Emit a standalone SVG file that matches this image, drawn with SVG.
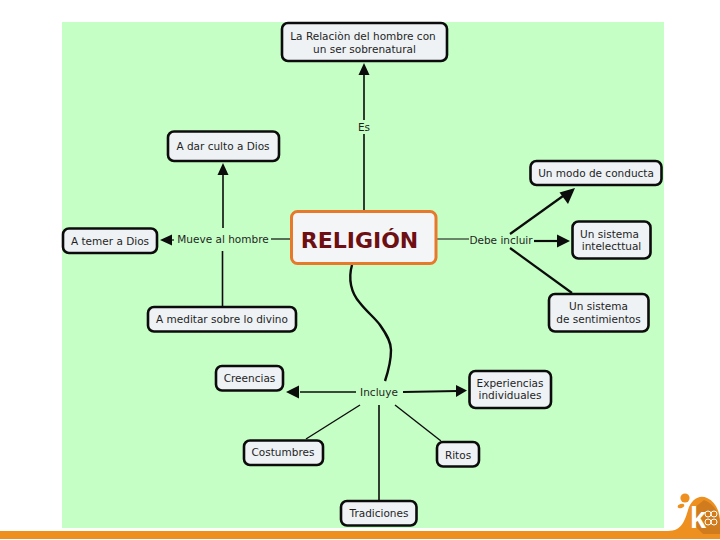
<svg xmlns="http://www.w3.org/2000/svg" width="720" height="540" viewBox="0 0 720 540">
<style>
.n{fill:#eef2f5;stroke:#0c0c0c;stroke-width:2.6}
.t{font-family:"DejaVu Sans",sans-serif;font-size:10.5px;fill:#1f1f1f;text-anchor:middle}
.c{fill:none;stroke:#0c0c0c}
.a{fill:#0c0c0c;stroke:none}
.h{fill:none;stroke:#fff;stroke-width:1}
</style>
<rect width="720" height="540" fill="#fff"/>
<rect x="62" y="22" width="602" height="506" fill="#c6ffc6"/>
<g id="footer">
<path d="M0 531H668C682 531 685 520 688 510C691 499 700 494 707 498C716 502 720 512 720 522V539H0Z" fill="#ee9020"/>
<path d="M696 527L694 508L704 500C713 503 719 512 720 522V534H703Z" fill="#d07c1e"/>
<circle cx="685" cy="498" r="4.6" fill="#ee9020"/>
<ellipse cx="681" cy="506" rx="3.4" ry="2" fill="#ee9020" transform="rotate(-20 681 506)"/>
<text x="698" y="528" font-family="'Liberation Sans',sans-serif" font-size="29" font-weight="700" fill="#fff" text-anchor="middle">k</text>
<circle class="h" cx="708" cy="514" r="3"/>
<circle class="h" cx="714" cy="514" r="3"/>
<circle class="h" cx="708" cy="522" r="3"/>
<circle class="h" cx="714" cy="522" r="3"/>
</g>
<g id="connectors">
<path class="c" stroke-width="1.6" d="M364 211V134M364 120V72"/>
<path class="a" d="M364 63L358.500 75H369.500Z"/>
<path class="c" stroke-width="1.6" d="M223 228V174"/>
<path class="a" d="M223 163L217.500 175H228.500Z"/>
<path class="c" stroke-width="1.6" d="M222.500 251V306"/>
<path class="c" stroke-width="1.2" d="M271 239H291"/>
<path class="c" stroke-width="1.2" d="M174 240H168"/>
<path class="a" d="M160 240L172 234.500V245.500Z"/>
<path class="c" stroke-width="1" d="M437 239H469"/>
<path class="c" stroke-width="2.2" d="M510 234L563 196"/>
<path class="a" d="M575 188L559.500 192.500L568 204Z"/>
<path class="c" stroke-width="2.2" d="M534 241H560"/>
<path class="a" d="M570 241L557 234.500V247.500Z"/>
<path class="c" stroke-width="2.2" d="M510 248L572 293"/>
<path class="c" stroke-width="2.4" d="M352 265C348 279 351 293 360 303C367 312 375 318 380 325C387 335 391 342 391 350C391 362 388 372 385 381"/>
<path class="c" stroke-width="1.600" d="M356 392L300 392"/>
<path class="a" d="M286 392L299 385.500V398.500Z"/>
<path class="c" stroke-width="1.800" d="M403 392L458 391"/>
<path class="a" d="M467 390.500L456 385V397Z"/>
<path class="c" stroke-width="1.400" d="M360 405L306 439"/>
<path class="c" stroke-width="1.400" d="M395 405L441 441"/>
<path class="c" stroke-width="1.600" d="M379 405V501"/>
</g>
<g id="relacion"><rect class="n" x="282" y="23" width="165" height="38" rx="6"/><text class="t" x="363" y="40">La Relaciòn del hombre con</text><text class="t" x="364.500" y="53">un ser sobrenatural</text></g>
<g id="dar-culto"><rect class="n" x="168" y="131.500" width="111" height="29.500" rx="6"/><text class="t" x="223" y="150">A dar culto a Dios</text></g>
<g id="temer"><rect class="n" x="63" y="228.500" width="94" height="24.500" rx="6"/><text class="t" x="110" y="245">A temer a Dios</text></g>
<g id="religion"><rect x="291.500" y="211.500" width="144.500" height="52" rx="6" fill="#f4f5f7" stroke="#e8782a" stroke-width="3"/><text x="359.500" y="247.500" font-family="'DejaVu Sans',sans-serif" font-size="22px" font-weight="700" fill="#6e0f14" text-anchor="middle">RELIGIÓN</text></g>
<g id="modo"><rect class="n" x="530.500" y="161" width="131" height="24" rx="6"/><text class="t" x="596" y="177">Un modo de conducta</text></g>
<g id="intelectual"><rect class="n" x="572.500" y="221.500" width="78" height="37" rx="6"/><text class="t" x="609.500" y="238">Un sistema</text><text class="t" x="611.500" y="250">intelecttual</text></g>
<g id="sentimientos"><rect class="n" x="549" y="294" width="99.500" height="37.500" rx="6"/><text class="t" x="598.500" y="310">Un sistema</text><text class="t" x="598.500" y="323">de sentimientos</text></g>
<g id="meditar"><rect class="n" x="148" y="307" width="148" height="24.500" rx="6"/><text class="t" x="222" y="323">A meditar sobre lo divino</text></g>
<g id="creencias"><rect class="n" x="216" y="366" width="67" height="24.500" rx="6"/><text class="t" x="249.500" y="382">Creencias</text></g>
<g id="experiencias"><rect class="n" x="469.500" y="371" width="81.500" height="37" rx="6"/><text class="t" x="510" y="387">Experiencias</text><text class="t" x="510" y="399">individuales</text></g>
<g id="costumbres"><rect class="n" x="244" y="440.500" width="79" height="24.500" rx="6"/><text class="t" x="283" y="456">Costumbres</text></g>
<g id="ritos"><rect class="n" x="437" y="442" width="42" height="24.500" rx="6"/><text class="t" x="458" y="459">Ritos</text></g>
<g id="tradiciones"><rect class="n" x="341" y="501" width="75.500" height="24.500" rx="6"/><text class="t" x="379" y="517">Tradiciones</text></g>
<g id="labels">
<text class="t" x="364" y="131">Es</text>
<text class="t" x="223" y="243">Mueve al hombre</text>
<text class="t" x="501" y="244">Debe incluir</text>
<text class="t" x="379" y="396">Incluye</text>
</g>
</svg>
